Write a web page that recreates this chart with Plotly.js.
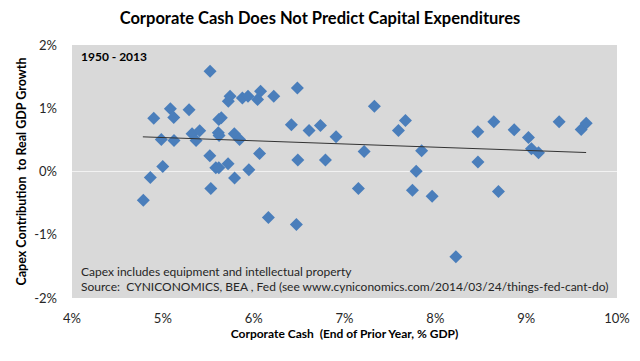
<!DOCTYPE html>
<html>
<head>
<meta charset="utf-8">
<script src="https://cdn.plot.ly/plotly-3.0.1.min.js"></script>
<style>html,body{margin:0;padding:0;background:#fff;}#chart{width:640px;height:361px;}</style>
</head>
<body>
<div id="chart"></div>
<script>
// Corporate cash (% GDP, end of prior year), 1950-2013
const cashPct = [4.785,4.862,4.900,4.983,4.999,5.083,5.120,5.123,5.289,5.322,5.366,5.406,5.520,5.517,5.528,5.583,5.616,5.616,5.644,5.611,5.619,5.718,5.721,5.740,5.787,5.790,5.845,5.876,5.938,5.947,6.043,6.076,6.065,6.162,6.221,6.415,6.470,6.481,6.486,6.610,6.735,6.790,6.907,7.153,7.216,7.329,7.594,7.671,7.748,7.789,7.849,7.965,8.226,8.468,8.469,8.644,8.695,8.868,9.025,9.058,9.136,9.363,9.606,9.661];
// Capex contribution to real GDP growth (%)
const capexPct = [-0.453,-0.095,0.842,0.506,0.079,0.991,0.853,0.490,0.975,0.596,0.490,0.643,1.585,0.248,-0.269,0.058,0.058,0.821,0.848,0.611,0.569,0.122,1.111,1.190,0.596,-0.103,0.506,1.164,1.190,0.027,1.137,1.269,0.284,-0.727,1.190,0.738,-0.837,1.322,0.182,0.648,0.727,0.182,0.548,-0.269,0.316,1.032,0.648,0.806,-0.295,0.003,0.327,-0.390,-1.348,0.627,0.150,0.785,-0.316,0.659,0.537,0.359,0.295,0.785,0.664,0.763];
// Linear trendline endpoints
const trendX = [4.78, 9.66];
const trendY = [0.548, 0.300];
const xTickVals = [4,5,6,7,8,9,10];
const xTickText = ['4%','5%','6%','7%','8%','9%','10%'];
const yTickVals = [-2,-1,0,1,2];
const yTickText = ['-2%','-1%','0%','1%','2%'];

const F = 'Lato, "Open Sans", sans-serif';
const data = [
  {x: cashPct, y: capexPct, type: 'scatter', mode: 'markers',
   marker: {symbol: 'diamond', size: 10, color: '#4a7ebb', line: {width: 0}}, hoverinfo: 'none'},
  {x: trendX, y: trendY, type: 'scatter', mode: 'lines',
   line: {color: '#333333', width: 1}, hoverinfo: 'none'}
];
const layout = {
  width: 640, height: 361,
  margin: {l: 72, r: 23, t: 45, b: 62.5},
  paper_bgcolor: '#ffffff', plot_bgcolor: '#d9d9d9',
  showlegend: false,
  font: {family: F, size: 12, color: '#262626'},
  title: {text: '<b>Corporate Cash Does Not Predict Capital Expenditures</b>',
          font: {family: F, size: 16.5, color: '#000000'}, x: 0.5, xanchor: 'center', y: 0.95, yanchor: 'middle'},
  xaxis: {range: [4, 10], tickvals: xTickVals, ticktext: xTickText, showgrid: false, zeroline: false,
          showline: false, ticks: '', ticklabelstandoff: 11, tickfont: {size: 13, color: '#262626'},
          title: {text: '<b>Corporate Cash  (End of Prior Year, % GDP)</b>', font: {size: 12, color: '#000'}, standoff: 3}},
  yaxis: {range: [-2, 2], tickvals: yTickVals, ticktext: yTickText, showgrid: false, zeroline: true,
          zerolinecolor: '#f2f2f2', zerolinewidth: 1, showline: false, ticks: '', ticklabelstandoff: 14,
          tickfont: {size: 13, color: '#262626'},
          title: {text: '<b>Capex Contribution  to Real GDP Growth</b>', font: {size: 12.5, color: '#000'}, standoff: 4}},
  annotations: [
    {xref: 'paper', yref: 'paper', x: 0.0128, y: 0.953, xanchor: 'left', yanchor: 'middle', showarrow: false,
     text: '<b>1950 - 2013</b>', font: {size: 12, color: '#000'}},
    {xref: 'paper', yref: 'paper', x: 0.0128, y: 0.1045, xanchor: 'left', yanchor: 'middle', showarrow: false,
     text: 'Capex includes equipment and intellectual property', font: {size: 12, color: '#262626'}},
    {xref: 'paper', yref: 'paper', x: 0.0128, y: 0.044, xanchor: 'left', yanchor: 'middle', showarrow: false,
     text: 'Source:  CYNICONOMICS, BEA , Fed (see www.cyniconomics.com/2014/03/24/things-fed-cant-do)', font: {size: 12, color: '#262626'}}
  ]
};
Plotly.newPlot('chart', data, layout, {staticPlot: true, displayModeBar: false});
</script>
</body>
</html>
